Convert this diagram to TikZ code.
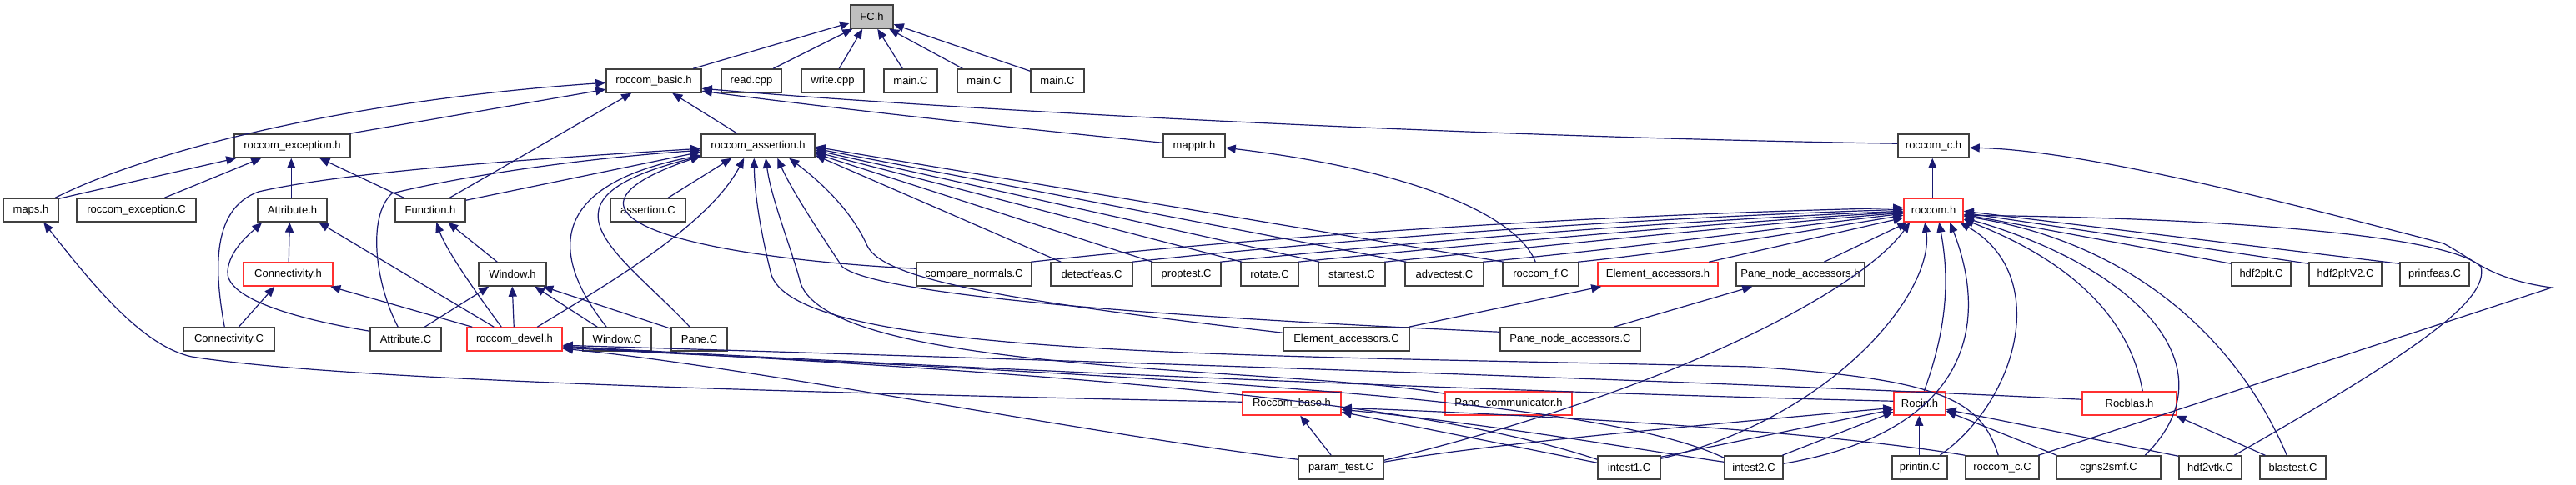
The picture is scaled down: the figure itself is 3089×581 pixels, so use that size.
\documentclass[tikz,border=0pt]{standalone}
\usepackage{fontspec}
\setmainfont{Liberation Sans}
\usetikzlibrary{arrows.meta,calc}
\definecolor{edgec}{HTML}{191970}
\definecolor{boxc}{HTML}{404040}
\definecolor{redc}{HTML}{FF3030}
\definecolor{fcfill}{HTML}{BFBFBF}
\tikzset{
 box/.style={draw=boxc, line width=1.5pt, fill=white, inner sep=0pt, minimum height=28pt, font=\fontsize{13}{13}\selectfont, text=black},
 rbox/.style={box, draw=redc},
 gbox/.style={box, fill=fcfill},
 e/.style={draw=edgec, line width=1.2pt, -{Triangle[length=12pt,width=10pt]}},
}
\newcommand\nd[6][box]{\node[#1, minimum width={#4pt-#3pt}] (#2) at ({(#3+#4)/2},#5) {#6};}
\newcommand\pT[2]{([xshift=#2pt]#1.north west)}
\newcommand\pB[2]{([xshift=#2pt]#1.south west)}
\newcommand\pL[2]{([yshift=-#2pt]#1.north west)}
\newcommand\pR[2]{([yshift=-#2pt]#1.north east)}
\begin{document}
\begin{tikzpicture}[x=1pt,y=-1pt]
\fill[white] (0,0) rectangle (3089,581);
\useasboundingbox (0,0) rectangle (3089,581);
% row 1-2
\nd[gbox]{FC}{1020}{1071}{20}{FC.h}
\nd{basic}{727}{841}{97}{roccom\_basic.h}
\nd{read}{865}{937}{97}{read.cpp}
\nd{write}{961}{1036}{97}{write.cpp}
\nd{mA}{1060}{1124}{97}{main.C}
\nd{mB}{1148}{1212}{97}{main.C}
\nd{mC}{1236}{1300}{97}{main.C}
% row 3
\nd{exc}{281}{420}{175}{roccom\_exception.h}
\nd{asr}{841}{977}{175}{roccom\_assertion.h}
\nd{mapptr}{1395}{1469}{175}{mapptr.h}
\nd{rcch}{2276}{2361}{175}{roccom\_c.h}
% row 4
\nd{maps}{4}{70}{252}{maps.h}
\nd{excC}{92}{235}{252}{roccom\_exception.C}
\nd{attrh}{309}{392}{252}{Attribute.h}
\nd{func}{474}{558}{252}{Function.h}
\nd{asrC}{732}{822}{252}{assertion.C}
\nd[rbox]{roccomh}{2283}{2354}{252}{roccom.h}
% row 5
\nd[rbox]{conh}{292}{399}{329}{Connectivity.h}
\nd{winh}{574}{655}{329}{Window.h}
\nd{cmp}{1099}{1237}{329}{compare\_normals.C}
\nd{det}{1260}{1358}{329}{detectfeas.C}
\nd{prop}{1381}{1464}{329}{proptest.C}
\nd{rot}{1488}{1557}{329}{rotate.C}
\nd{star}{1581}{1661}{329}{startest.C}
\nd{adv}{1685}{1779}{329}{advectest.C}
\nd{rf}{1802}{1893}{329}{roccom\_f.C}
\nd[rbox]{eah}{1916}{2060}{329}{Element\_accessors.h}
\nd{pnah}{2082}{2236}{329}{Pane\_node\_accessors.h}
\nd{htp}{2676}{2747}{329}{hdf2plt.C}
\nd{htpv}{2769}{2856}{329}{hdf2pltV2.C}
\nd{pf}{2878}{2961}{329}{printfeas.C}
% row 6
\nd{conC}{220}{329}{407}{Connectivity.C}
\nd{attrC}{444}{529}{407}{Attribute.C}
\nd[rbox]{devel}{560}{674}{407}{roccom\_devel.h}
\nd{winC}{699}{781}{407}{Window.C}
\nd{paneC}{805}{872}{407}{Pane.C}
\nd{eaC}{1539}{1690}{407}{Element\_accessors.C}
\nd{pnaC}{1799}{1967}{407}{Pane\_node\_accessors.C}
% row 7
\nd[rbox]{rbase}{1490}{1608}{484}{Roccom\_base.h}
\nd[rbox]{pcomm}{1733}{1885}{484}{Pane\_communicator.h}
\nd[rbox]{rocin}{2271}{2333}{484}{Rocin.h}
\nd[rbox]{rocblas}{2497}{2610}{484}{Rocblas.h}
% row 8
\nd{ptest}{1557}{1659}{561}{param\_test.C}
\nd{inA}{1916}{1991}{561}{intest1.C}
\nd{inB}{2068}{2138}{561}{intest2.C}
\nd{printin}{2269}{2335}{561}{printin.C}
\nd{rccC}{2357}{2445}{561}{roccom\_c.C}
\nd{cgns}{2466}{2591}{561}{cgns2smf.C}
\nd{htv}{2613}{2688}{561}{hdf2vtk.C}
\nd{blast}{2710}{2789}{561}{blastest.C}

% ---- edges into FC.h
\draw[e] \pT{basic}{105} -- \pL{FC}{22};
\draw[e] \pT{read}{63} -- \pB{FC}{3};
\draw[e] \pT{write}{46} -- \pB{FC}{15};
\draw[e] \pT{mA}{23} -- \pB{FC}{33};
\draw[e] \pT{mB}{7} -- \pB{FC}{47};
\draw[e] \pL{mC}{3} -- \pR{FC}{24};
% ---- into roccom_basic.h
\draw[e] \pT{exc}{139} -- \pL{basic}{25};
\draw[e] \pT{maps}{63} .. controls (180,180) and (420,120) .. \pL{basic}{17};
\draw[e] \pT{func}{66} -- \pB{basic}{31};
\draw[e] \pT{asr}{44} -- \pB{basic}{80};
\draw[e] \pL{mapptr}{11} .. controls (1200,152) and (1000,130) .. \pR{basic}{27};
\draw[e] \pL{rcch}{12} .. controls (1700,163) and (1100,128) .. \pR{basic}{24};
% ---- into roccom_exception.h
\draw[e] \pR{maps}{1} -- \pB{exc}{3};
\draw[e] \pT{excC}{106} -- \pB{exc}{33};
\draw[e] \pT{attrh}{41} -- \pB{exc}{69};
\draw[e] \pT{func}{11} -- \pB{exc}{103};
% ---- into roccom_assertion.h
\draw[e] \pR{func}{3} -- \pL{asr}{22};
\draw[e] \pT{conC}{50} .. controls (256,320) and (255,250) .. (310,230) .. controls (420,205) and (650,190) .. \pL{asr}{18};
\draw[e] \pT{attrC}{34} .. controls (450,340) and (440,260) .. (470,232) .. controls (560,210) and (700,190) .. \pL{asr}{20};
\draw[e] \pT{asrC}{70} -- \pB{asr}{37};
\draw[e] \pT{devel}{85} .. controls (730,340) and (850,270) .. \pB{asr}{52};
\draw[e] \pT{winC}{29} .. controls (670,320) and (640,225) .. \pL{asr}{26};
\draw[e] \pT{paneC}{23} .. controls (740,300) and (630,240) .. \pL{asr}{27};
\draw[e] \pL{cmp}{8} .. controls (850,310) and (620,262) .. \pL{asr}{27};
\draw[e] \pT{det}{13} -- \pR{asr}{26};
\draw[e] \pT{prop}{2} -- \pR{asr}{24};
\draw[e] \pT{rot}{2} -- \pR{asr}{22};
\draw[e] \pT{star}{2} -- \pR{asr}{20};
\draw[e] \pT{adv}{2} -- \pR{asr}{18};
\draw[e] \pT{rf}{2} -- \pR{asr}{16};
\draw[e] \pL{eaC}{7} .. controls (1200,360) and (1060,335) .. (1040,295) .. controls (1020,250) and (980,215) .. \pB{asr}{106};
\draw[e] \pL{pnaC}{6} .. controls (1500,385) and (1060,360) .. (1010,320) .. controls (990,290) and (950,230) .. \pB{asr}{92};
\draw[e] \pT{rccC}{40} .. controls (2375,480) and (2330,455) .. (2100,440) .. controls (1500,425) and (960,430) .. (925,330) .. controls (915,290) and (905,240) .. \pB{asr}{64};
\draw[e] \pL{pcomm}{3} .. controls (1550,440) and (1000,450) .. (960,340) .. controls (950,300) and (925,240) .. \pB{asr}{78};
% ---- maps.h
\draw[e] \pL{rbase}{13} .. controls (900,470) and (400,455) .. (230,428) .. controls (170,415) and (110,340) .. \pB{maps}{49};
% ---- Attribute.h, Connectivity.h, Function.h, Window.h
\draw[e] \pL{attrC}{5} .. controls (340,380) and (270,355) .. (273,325) .. controls (275,300) and (300,280) .. \pB{attrh}{6};
\draw[e] \pT{conh}{55} -- \pB{attrh}{39};
\draw[e] \pT{devel}{33} -- \pB{attrh}{74};
\draw[e] \pT{conC}{67} -- \pB{conh}{38};
\draw[e] \pT{devel}{7} -- \pB{conh}{105};
\draw[e] \pT{winh}{23} -- \pB{func}{64};
\draw[e] \pT{devel}{42} .. controls (570,350) and (535,300) .. \pB{func}{50};
\draw[e] \pT{attrC}{66} -- \pB{winh}{13};
\draw[e] \pT{devel}{57} -- \pB{winh}{41};
\draw[e] \pT{winC}{18} -- \pB{winh}{68};
\draw[e] \pL{paneC}{2} -- \pB{winh}{78};
% ---- roccom_devel.h
\draw[e] \pL{ptest}{5} .. controls (1300,520) and (900,440) .. \pR{devel}{26};
\draw[e] \pL{rocblas}{10} .. controls (2000,455) and (1200,430) .. \pR{devel}{22};
\draw[e] \pL{rocin}{12} .. controls (1800,470) and (1200,445) .. \pR{devel}{23};
\draw[e] \pL{inA}{5} .. controls (1700,480) and (1300,450) .. \pR{devel}{24};
\draw[e] \pL{inB}{3} .. controls (1900,470) and (1300,450) .. \pR{devel}{25};
% ---- Roccom_base.h
\draw[e] \pT{ptest}{40} -- \pB{rbase}{70};
\draw[e] \pT{rccC}{0} .. controls (2200,520) and (1900,500) .. \pR{rbase}{20};
\draw[e] \pL{inA}{9} -- \pR{rbase}{25};
\draw[e] \pL{inB}{8} .. controls (2000,545) and (1800,510) .. \pR{rbase}{22};
% ---- roccom.h
\draw[e] \pT{roccomh}{35} -- \pB{rcch}{42};
\draw[e] \pT{cmp}{138} .. controls (1500,285) and (1900,258) .. \pL{roccomh}{12};
\draw[e] \pT{det}{98} .. controls (1600,288) and (1950,262) .. \pL{roccomh}{14};
\draw[e] \pT{prop}{83} .. controls (1700,290) and (2000,265) .. \pL{roccomh}{16};
\draw[e] \pT{rot}{69} .. controls (1780,292) and (2050,268) .. \pL{roccomh}{17};
\draw[e] \pT{star}{80} .. controls (1850,295) and (2100,270) .. \pL{roccomh}{18};
\draw[e] \pT{adv}{94} .. controls (1950,298) and (2150,272) .. \pL{roccomh}{19};
\draw[e] \pT{rf}{91} .. controls (2030,300) and (2180,275) .. \pL{roccomh}{21};
\draw[e] \pT{eah}{134} -- \pL{roccomh}{24};
\draw[e] \pT{pnah}{106} -- \pB{roccomh}{5};
\draw[e] \pL{htp}{2} -- \pR{roccomh}{20};
\draw[e] \pL{htpv}{2} -- \pR{roccomh}{18};
\draw[e] \pL{pf}{2} -- \pR{roccomh}{16};
\draw[e] \pR{ptest}{6} .. controls (2000,470) and (2230,350) .. \pB{roccomh}{8};
\draw[e] \pR{inA}{4} .. controls (2200,500) and (2320,350) .. \pB{roccomh}{26};
\draw[e] \pT{rocin}{37} .. controls (2340,380) and (2335,320) .. \pB{roccomh}{43};
\draw[e] \pR{inB}{10} .. controls (2350,520) and (2390,400) .. \pB{roccomh}{56};
\draw[e] \pT{printin}{58} .. controls (2420,480) and (2460,330) .. \pB{roccomh}{68};
\draw[e] \pT{rocblas}{73} .. controls (2550,360) and (2450,300) .. \pR{roccomh}{26};
\draw[e] \pT{cgns}{107} .. controls (2680,440) and (2560,320) .. \pR{roccomh}{24};
\draw[e] \pT{blast}{33} .. controls (2680,400) and (2550,290) .. \pR{roccomh}{22};
\draw[e] \pT{htv}{67} .. controls (2900,420) and (2985,360) .. (2975,320) .. controls (2940,285) and (2700,262) .. \pR{roccomh}{21};
\draw[e] \pT{rccC}{88} -- (3060,345) .. controls (2985,335) and (2965,310) .. (2930,292) .. controls (2750,245) and (2500,180) .. \pR{rcch}{17};
% ---- Rocin.h, Rocblas.h
\draw[e] \pT{printin}{33} -- \pB{rocin}{31};
\draw[e] \pR{inA}{2} -- \pL{rocin}{22};
\draw[e] \pT{inB}{70} -- \pL{rocin}{25};
\draw[e] \pR{ptest}{8} .. controls (1800,530) and (2100,505) .. \pL{rocin}{20};
\draw[e] \pT{cgns}{1} -- \pR{rocin}{24};
\draw[e] \pL{htv}{1} -- \pR{rocin}{22};
\draw[e] \pT{blast}{7} -- \pB{rocblas}{113};
% ---- accessors, mapptr
\draw[e] \pT{eaC}{151} -- \pB{eah}{5};
\draw[e] \pT{pnaC}{137} -- \pB{pnah}{20};
\draw[e] \pT{rf}{40} .. controls (1820,260) and (1700,205) .. \pR{mapptr}{17};
\end{tikzpicture}
\end{document}
